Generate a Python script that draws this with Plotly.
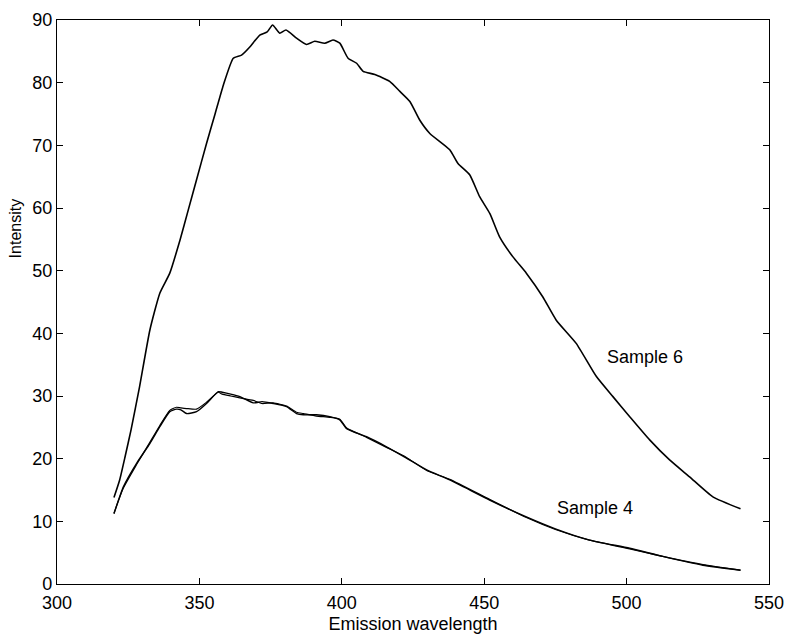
import plotly.graph_objects as go

# Sample 6 (upper curve)
s6_x = [320, 322, 324, 326, 329, 332.6, 336.1, 339.6, 343.2, 346.1, 349, 352.5, 355.5,
        358.4, 361.9, 364.8, 367.7, 371.2, 373.8, 375.7, 378.2, 380.4, 384.1, 387.6,
        390.5, 394, 396.9, 399.3, 402.2, 405.2, 407.5, 411.6, 416.8, 420.4, 423.9,
        427.4, 430.9, 437.9, 440.8, 444.9, 448.4, 452, 455.4, 460.1, 464.8, 470.6,
        475.3, 482.3, 489.4, 495.2, 501.1, 508.1, 515.1, 522.1, 530.3, 540]
s6_y = [13.8, 16.6, 20.5, 24.6, 31.5, 40.5, 46.4, 49.6, 54.9, 59.7, 64.5, 70.3, 75.0,
        79.6, 83.9, 84.4, 85.7, 87.6, 88.1, 89.2, 87.9, 88.4, 87.1, 86.1,
        86.6, 86.3, 86.8, 86.3, 83.9, 83.1, 81.8, 81.3, 80.2, 78.6, 77.0,
        74.0, 71.9, 69.3, 67.1, 65.3, 61.8, 59.1, 55.4, 52.2, 49.6, 45.8,
        42.1, 38.4, 33.1, 29.9, 26.7, 23.0, 19.8, 17.1, 13.9, 12.0]

# Sample 4 (two overlapping measurements)
s4_x = [320, 323.3, 328, 332.6, 336.1, 339.6, 341.9, 343.5, 345.5, 349, 352.5, 356.6,
        358, 361, 364.2, 368.9, 372, 375.9, 380.6, 384.1, 386.5, 391.1, 395.8, 399.3,
        401.7, 408.7, 415.7, 422.7, 429.8, 437.9, 451.9, 464.8, 475, 487, 501.1,
        512.7, 526.8, 540]
s4a_y = [11.2, 15.5, 19.3, 22.4, 25.1, 27.5, 27.9, 27.8, 27.2, 27.5, 28.8, 30.7,
         30.6, 30.3, 29.9, 28.9, 29.1, 28.8, 28.3, 27.2, 27.0, 27.0, 26.7, 26.2,
         24.8, 23.5, 21.9, 20.1, 18.2, 16.6, 13.4, 10.7, 8.8, 7.0, 5.7,
         4.4, 3.0, 2.2]
s4b_y = [11.3, 15.3, 19.1, 22.6, 25.3, 27.7, 28.2, 28.1, 28.0, 27.9, 29.0, 30.6,
         30.3, 30.0, 29.7, 29.3, 28.8, 28.9, 28.4, 27.4, 27.2, 26.8, 26.6, 26.3,
         24.9, 23.4, 21.8, 20.2, 18.1, 16.7, 13.5, 10.6, 8.7, 7.0, 5.6,
         4.4, 3.1, 2.2]

x_ticks = [300, 350, 400, 450, 500, 550]
y_ticks = [0, 10, 20, 30, 40, 50, 60, 70, 80, 90]

FONT = "Liberation Sans, Arial, sans-serif"

fig = go.Figure()
line_shape = dict(shape="spline", smoothing=0.5)
fig.add_trace(go.Scatter(x=s6_x, y=s6_y, mode="lines",
                         line=dict(color="black", width=1.6, **line_shape),
                         name="Sample 6", showlegend=False))
fig.add_trace(go.Scatter(x=s4_x, y=s4a_y, mode="lines",
                         line=dict(color="black", width=1.4, **line_shape),
                         name="Sample 4", showlegend=False))
fig.add_trace(go.Scatter(x=s4_x, y=s4b_y, mode="lines",
                         line=dict(color="black", width=1.2, **line_shape),
                         name="Sample 4 (repeat)", showlegend=False))

fig.add_annotation(x=506.3, y=36.2, text="Sample 6", showarrow=False,
                   font=dict(family=FONT, size=18, color="black"))
fig.add_annotation(x=488.8, y=12.1, text="Sample 4", showarrow=False,
                   font=dict(family=FONT, size=18, color="black"))
# y-axis title (placed above centre as in the reference)
fig.add_annotation(xref="paper", yref="paper", x=-0.058, y=0.63, text="Intensity",
                   textangle=-90, showarrow=False, xanchor="center", yanchor="middle",
                   font=dict(family=FONT, size=16, color="black"))

axis_common = dict(showgrid=False, zeroline=False, showline=True, linecolor="black",
                   linewidth=1.2, mirror="ticks", ticks="inside", ticklen=6,
                   tickcolor="black", tickwidth=1, automargin=False,
                   tickfont=dict(family=FONT, size=18, color="black"))

fig.update_xaxes(range=[300, 550], tickvals=x_ticks, ticktext=[str(v) for v in x_ticks],
                 ticklabelstandoff=2,
                 title=dict(text="Emission wavelength", font=dict(family=FONT, size=18, color="black"),
                            standoff=5),
                 **axis_common)
fig.update_yaxes(range=[0, 90], tickvals=y_ticks, ticktext=[str(v) for v in y_ticks],
                 **axis_common)

fig.update_layout(width=786, height=634, paper_bgcolor="white", plot_bgcolor="white",
                  margin=dict(l=57, r=17, t=20, b=50), font=dict(family=FONT, color="black"))

fig.write_html("out.html")
